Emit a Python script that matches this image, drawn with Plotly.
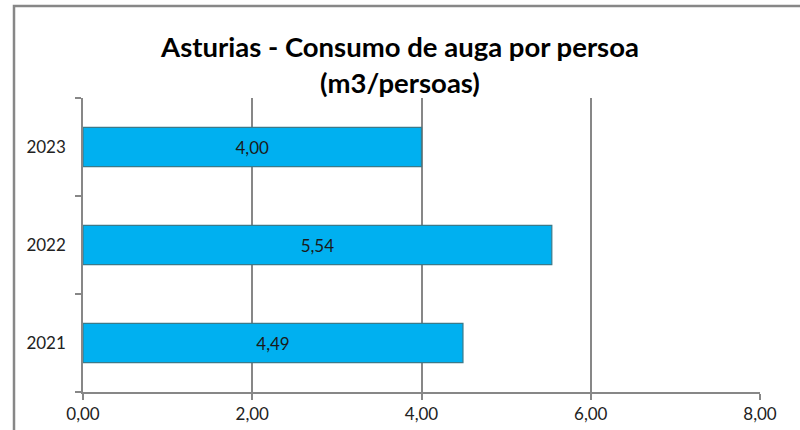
import plotly.graph_objects as go

years = ["2021", "2022", "2023"]
values = [4.49, 5.54, 4.00]
labels = ["4,49", "5,54", "4,00"]
x_ticks = [0, 2, 4, 6, 8]
x_tick_labels = ["0,00", "2,00", "4,00", "6,00", "8,00"]
title_text = "<b>Asturias - Consumo de auga por persoa<br>(m3/persoas)</b>"

FONT = "Lato"
GRID = "#878787"

fig = go.Figure()
fig.add_trace(go.Bar(
    y=years, x=values, orientation="h",
    text=labels, textposition="inside", insidetextanchor="middle",
    textfont=dict(family=FONT, size=17, color="#1a1a1a"),
    marker=dict(color="#00B0F0", line=dict(color="#3A7A8A", width=1.2)),
    width=0.4, hoverinfo="skip",
))

L, R, T, B = 83, 40, 98, 38
W, H = 800, 430
pw = W - L - R
ph = H - T - B

fig.update_layout(
    width=W, height=H, autosize=False,
    margin=dict(l=L, r=R, t=T, b=B, pad=0, autoexpand=False),
    paper_bgcolor="white", plot_bgcolor="white",
    showlegend=False,
    title=dict(text=title_text, x=400 / W, xanchor="center", y=1 - 57 / H, yanchor="middle",
               font=dict(family=FONT, size=27.5, color="#000000")),
    xaxis=dict(range=[0, 8], tickvals=x_ticks, ticktext=x_tick_labels,
               showgrid=True, gridcolor=GRID, gridwidth=1.5,
               showline=True, linecolor=GRID, linewidth=1.5,
               ticks="outside", ticklen=6, tickcolor=GRID, tickwidth=1.5,
               tickfont=dict(family=FONT, size=17, color="#222222"),
               zeroline=False, fixedrange=True, automargin=False),
    yaxis=dict(categoryorder="array", categoryarray=years,
               range=[-0.5, 2.5], tickson="boundaries",
               showgrid=False, showline=True, linecolor=GRID, linewidth=1.5,
               ticks="outside", ticklen=6, tickcolor=GRID, tickwidth=1.5,
               tickfont=dict(family=FONT, size=17, color="#222222"),
               ticklabelstandoff=12, fixedrange=True, automargin=False),
    shapes=[dict(type="rect", xref="paper", yref="paper",
                 x0=(14 - L) / pw, x1=(810 - L) / pw,
                 y0=(H - B - 440) / ph, y1=(H - B - 6) / ph,
                 line=dict(color=GRID, width=2.5), fillcolor="rgba(0,0,0,0)", layer="below")],
)

fig.write_html(
    "out.html",
    config={"displayModeBar": False},
    post_script="document.body.style.margin='0';document.body.style.overflow='hidden';",
)
